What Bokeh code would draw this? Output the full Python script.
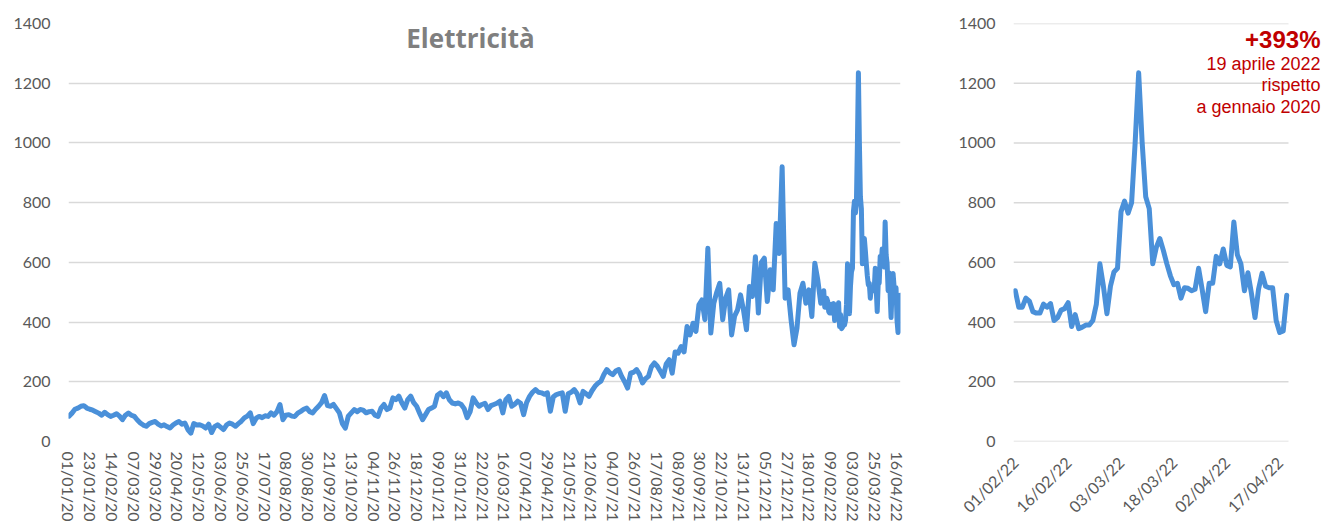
from math import pi
import pandas as pd
from bokeh.plotting import figure
from bokeh.layouts import row
from bokeh.models import Range1d, FixedTicker, Label, ColumnDataSource
from bokeh.embed import file_html
from bokeh.resources import INLINE

# ---------------- data ----------------
series_start = "2020-01-01"
early_step_days = 3          # 01/01/2020 .. 31/01/2022, one reading every 3 days
early_values = [
    85, 95, 108, 112, 118, 120, 112, 108, 105, 100, 95, 88, 98, 90, 84, 88, 93, 85, 73, 88,
    95, 88, 84, 72, 62, 55, 51, 60, 64, 67, 58, 52, 56, 50, 45, 55, 62, 67, 58, 62,
    40, 28, 60, 55, 56, 52, 45, 58, 30, 50, 56, 48, 40, 55, 62, 58, 51, 60, 68, 79,
    85, 96, 60, 78, 84, 80, 86, 84, 96, 88, 100, 124, 73, 88, 90, 85, 84, 95, 101, 108,
    112, 100, 96, 108, 118, 130, 154, 120, 118, 124, 110, 96, 60, 45, 85, 96, 107, 100, 107, 105,
    96, 100, 101, 88, 84, 112, 124, 107, 112, 146, 140, 152, 130, 112, 140, 152, 130, 118, 95, 73,
    90, 107, 112, 118, 155, 163, 150, 163, 140, 129, 126, 129, 124, 110, 80, 100, 146, 130, 118, 124,
    128, 107, 120, 124, 128, 135, 96, 140, 151, 118, 125, 135, 128, 90, 130, 151, 165, 174, 165, 163,
    158, 163, 101, 150, 157, 160, 163, 101, 160, 165, 174, 160, 129, 168, 160, 151, 170, 185, 195, 202,
    224, 241, 230, 224, 236, 241, 218, 200, 179, 229, 232, 241, 225, 196, 210, 218, 250, 263, 252, 235,
    218, 260, 274, 229, 300, 296, 318, 300, 385, 357, 396, 369, 458, 474, 408, 647, 363, 463, 500, 530,
    408, 480, 508, 357, 420, 441, 491, 440, 374, 519, 486, 619, 430, 600, 614, 469, 575, 508, 730, 630,
    920, 480, 508, 408, 324, 380, 497, 530, 463, 508, 419, 597, 541, 463,
]

recent_start = "2022-02-01"  # daily readings 01/02/2022 .. 19/04/2022
recent_values = [
    505, 450, 450, 480, 470, 435, 430, 430, 460, 450, 462, 405, 415, 440, 445, 465, 385, 425, 378, 383,
    390, 390, 405, 460, 595, 520, 428, 520, 568, 580, 770, 805, 765, 800, 1000, 1235, 1000, 820, 780, 595,
    650, 680, 640, 595, 555, 525, 530, 480, 515, 513, 505, 510, 580, 510, 435, 530, 530, 620, 595, 645,
    590, 585, 735, 625, 595, 505, 565, 495, 415, 510, 563, 520, 515, 515, 405, 365, 370, 490,
]

left_tick_labels = [
    "01/01/20", "23/01/20", "14/02/20", "07/03/20", "29/03/20", "20/04/20", "12/05/20", "03/06/20",
    "25/06/20", "17/07/20", "08/08/20", "30/08/20", "21/09/20", "13/10/20", "04/11/20", "26/11/20",
    "18/12/20", "09/01/21", "31/01/21", "22/02/21", "16/03/21", "07/04/21", "29/04/21", "21/05/21",
    "12/06/21", "04/07/21", "26/07/21", "17/08/21", "08/09/21", "30/09/21", "22/10/21", "13/11/21",
    "05/12/21", "27/12/21", "18/01/22", "09/02/22", "03/03/22", "25/03/22", "16/04/22",
]
right_tick_labels = ["01/02/22", "16/02/22", "03/03/22", "18/03/22", "02/04/22", "17/04/22"]
y_ticks = [0, 200, 400, 600, 800, 1000, 1200, 1400]

title_text = "Elettricità"
note_big = "+393%"
note_lines = ["19 aprile 2022", "rispetto", "a gennaio 2020"]

# ---------------- derived positions (day indices) ----------------
t0 = pd.Timestamp(series_start)
t1 = pd.Timestamp(recent_start)
early_dates = pd.date_range(t0, periods=len(early_values), freq=f"{early_step_days}D")
recent_dates = pd.date_range(t1, periods=len(recent_values), freq="D")

left_x = [(d - t0).days for d in early_dates] + [(d - t0).days for d in recent_dates]
left_y = early_values + recent_values
right_x = [(d - t1).days for d in recent_dates]
right_y = list(recent_values)

n_left = (recent_dates[-1] - t0).days
n_right = (recent_dates[-1] - t1).days

left_ticks = [(pd.to_datetime(s, format="%d/%m/%y") - t0).days for s in left_tick_labels]
right_ticks = [(pd.to_datetime(s, format="%d/%m/%y") - t1).days for s in right_tick_labels]

LINE = "#4A90D9"
GRID = "#D9D9D9"
AXIS_TXT = "#595959"
RED = "#C00000"
FONT = "Lato"


def style(p, ticks, labels, orient, xstand, ystand):
    p.outline_line_color = None
    p.xgrid.visible = False
    p.ygrid.grid_line_color = GRID
    p.ygrid.grid_line_width = 1.5
    p.yaxis.ticker = FixedTicker(ticks=y_ticks)
    p.xaxis.ticker = FixedTicker(ticks=ticks)
    p.xaxis.major_label_overrides = {t: l for t, l in zip(ticks, labels)}
    p.xaxis.major_label_orientation = orient
    for ax in (p.xaxis, p.yaxis):
        ax.axis_line_color = None
        ax.major_tick_line_color = None
        ax.minor_tick_line_color = None
        ax.major_tick_in = 0
        ax.major_tick_out = 0
        ax.major_label_text_font = FONT
        ax.major_label_text_font_size = "16px"
        ax.major_label_text_color = AXIS_TXT
    p.xaxis.major_label_standoff = xstand
    p.yaxis.major_label_standoff = ystand
    p.background_fill_color = "white"
    p.border_fill_color = "white"


# ---------------- left panel ----------------
p1 = figure(width=930, height=525, output_backend="svg", toolbar_location=None,
            x_range=Range1d(-0.5, n_left + 0.5), y_range=Range1d(0, 1400),
            min_border_left=68, min_border_right=30, min_border_top=23, min_border_bottom=83)
p1.line(x="x", y="y", source=ColumnDataSource(dict(x=left_x, y=left_y)),
        line_color=LINE, line_width=5, line_join="round", line_cap="round")
style(p1, left_ticks, left_tick_labels, "vertical", 10, 18)
p1.add_layout(Label(x=(n_left + 1) * 0.4826, y=1350, text=title_text, text_align="center",
                    text_baseline="alphabetic", text_font="Open Sans", text_font_style="bold",
                    text_font_size="26px", text_color="#7F7F7F"))

# ---------------- right panel ----------------
# plot frame widened on the right so the note can sit beyond the last day
px_per_day = 275 / (n_right + 1)
extra_days = 34 / px_per_day
p2 = figure(width=394, height=525, output_backend="svg", toolbar_location=None,
            x_range=Range1d(-0.5, n_right + 0.5 + extra_days), y_range=Range1d(0, 1400),
            min_border_left=83, min_border_right=2, min_border_top=21, min_border_bottom=80)
style(p2, right_ticks, right_tick_labels, pi / 4, 18, 18)
p2.ygrid.visible = False
p2.segment(x0=[-0.5] * len(y_ticks), x1=[n_right + 0.5] * len(y_ticks), y0=y_ticks, y1=y_ticks,
           line_color=GRID, line_width=1.5)
p2.line(x="x", y="y", source=ColumnDataSource(dict(x=right_x, y=right_y)),
        line_color=LINE, line_width=5, line_join="round", line_cap="round")

note_y = [1347, 1266, 1193, 1119]
p2.add_layout(Label(x=n_right + 0.5, y=note_y[0], x_offset=32, text=note_big, text_align="right",
                    text_baseline="alphabetic", text_font="Liberation Sans", text_font_style="bold",
                    text_font_size="24px", text_color=RED))
for yy, txt in zip(note_y[1:], note_lines):
    p2.add_layout(Label(x=n_right + 0.5, y=yy, x_offset=32, text=txt, text_align="right",
                        text_baseline="alphabetic", text_font="Liberation Sans",
                        text_font_size="18px", text_color=RED))

layout = row(p1, p2)
open("out.html", "w").write(file_html(layout, INLINE))
